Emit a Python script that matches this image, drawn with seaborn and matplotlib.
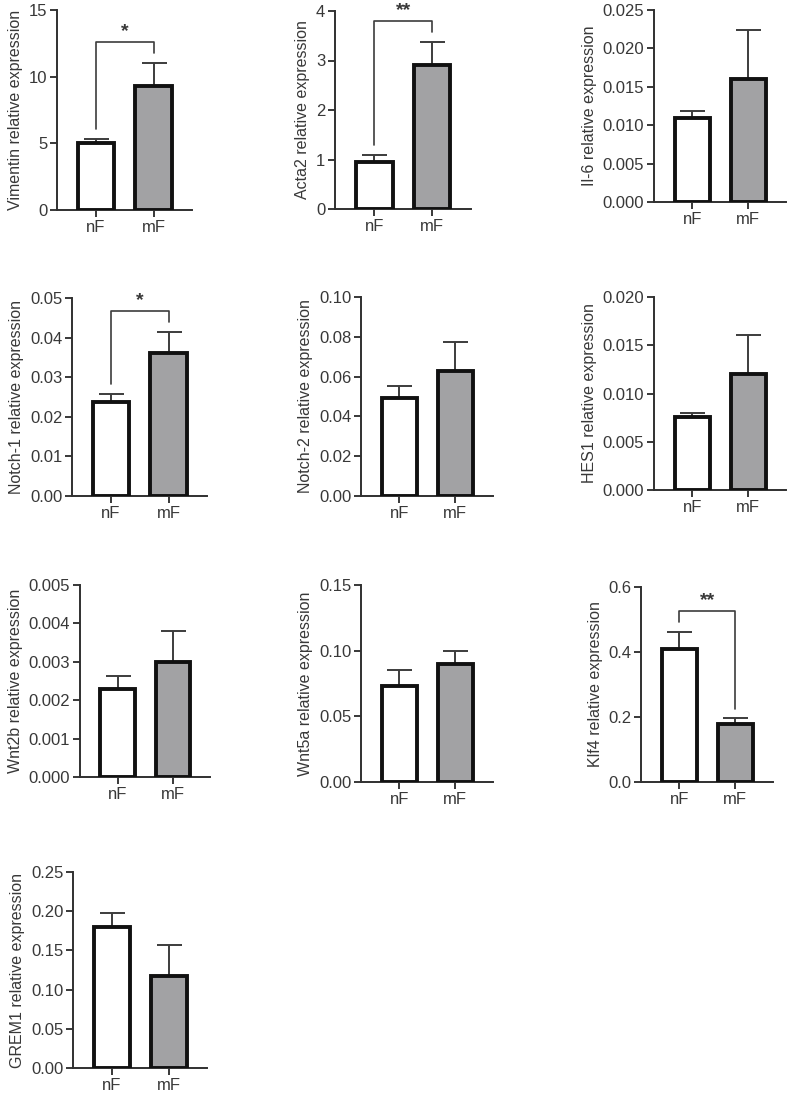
import pandas as pd
import seaborn as sns
import numpy as np
import matplotlib.pyplot as plt

# qPCR relative expression, mean and SEM (nF vs mF)
groups = ['nF', 'mF']

genes = ['Vimentin', 'Acta2', 'Il-6', 'Notch-1', 'Notch-2', 'HES1',
         'Wnt2b', 'Wnt5a', 'Klf4', 'GREM1']
means_nF = [5.0, 0.95, 0.011, 0.0237, 0.049, 0.0076, 0.00228, 0.073, 0.41, 0.180]
means_mF = [9.3, 2.90, 0.016, 0.0360, 0.063, 0.0120, 0.00300, 0.090, 0.18, 0.117]
sem_nF = [0.30, 0.15, 0.0008, 0.0020, 0.0065, 0.0004, 0.00035, 0.012, 0.053, 0.018]
sem_mF = [1.70, 0.47, 0.0064, 0.0055, 0.0145, 0.0041, 0.00080, 0.010, 0.016, 0.040]
signif = ['*', '**', '', '*', '', '', '', '', '**', '']

ymax = [15, 4, 0.025, 0.05, 0.10, 0.020, 0.005, 0.15, 0.6, 0.25]
ystep = [5, 1, 0.005, 0.01, 0.02, 0.005, 0.001, 0.05, 0.2, 0.05]
ydec = [0, 0, 3, 2, 2, 3, 3, 2, 1, 2]

# axes boxes in pixels: left, right, top, bottom
boxes = [(57, 192, 10, 210), (335, 471, 11, 209), (654, 786, 10, 202),
         (72, 207, 298, 496), (361, 493, 297, 496), (654, 786, 297, 490),
         (80, 210, 585, 777), (361, 493, 585, 782), (641, 773, 587, 782),
         (73, 207, 872, 1068)]

sns.set_theme(style='ticks')
plt.rcParams['font.family'] = ['Liberation Sans', 'DejaVu Sans']
txt = '#383838'
plt.rcParams.update({'text.color': txt, 'axes.labelcolor': txt,
                     'xtick.color': txt, 'ytick.color': txt,
                     'axes.edgecolor': '#303030', 'axes.linewidth': 1.4})

W, H = 789, 1095
fig = plt.figure(figsize=(W / 100, H / 100), dpi=100)

for i, gene in enumerate(genes):
    l, r, t, b = boxes[i]
    ax = fig.add_axes([l / W, 1 - b / H, (r - l) / W, (b - t) / H])
    df = pd.DataFrame({'group': groups, 'value': [means_nF[i], means_mF[i]]})
    sns.barplot(data=df, x='group', y='value', hue='group',
                palette=['white', '#a2a2a4'], edgecolor='#111111',
                linewidth=2.8, width=0.63, legend=False, ax=ax, zorder=3)
    xs = [p.get_x() + p.get_width() / 2 for p in ax.patches]
    ys = [means_nF[i], means_mF[i]]
    errs = [sem_nF[i], sem_mF[i]]
    ax.errorbar(xs, ys, yerr=[[0, 0], errs], fmt='none', ecolor='#3c3c3c',
                elinewidth=1.4, capsize=9, capthick=1.4, zorder=2)

    ax.set_xlim(-0.68, 1.67)
    ax.set_ylim(0, ymax[i])
    ticks = np.arange(0, ymax[i] + ystep[i] / 2, ystep[i])
    ax.set_yticks(ticks)
    ax.set_yticklabels([f'{v:.{ydec[i]}f}' for v in ticks])
    ax.tick_params(axis='both', labelsize=12, length=5, width=1.4, pad=2)
    ax.set_xlabel('')
    ax.set_ylabel(f'{gene} relative expression', fontsize=11.5, labelpad=4)
    sns.despine(ax=ax)

    if signif[i]:
        tops = [y + e for y, e in zip(ys, errs)]
        gap = 0.05 * ymax[i]
        yb = max(tops) + 0.105 * ymax[i]
        ax.plot([xs[0], xs[0], xs[1], xs[1]],
                [tops[0] + gap, yb, yb, tops[1] + gap],
                color='#3c3c3c', lw=1.2, clip_on=False)
        ax.text((xs[0] + xs[1]) / 2, yb + 0.01 * ymax[i], signif[i],
                ha='center', va='bottom', fontsize=14, fontweight='bold',
                clip_on=False)

plt.savefig('out.png', dpi=100)
